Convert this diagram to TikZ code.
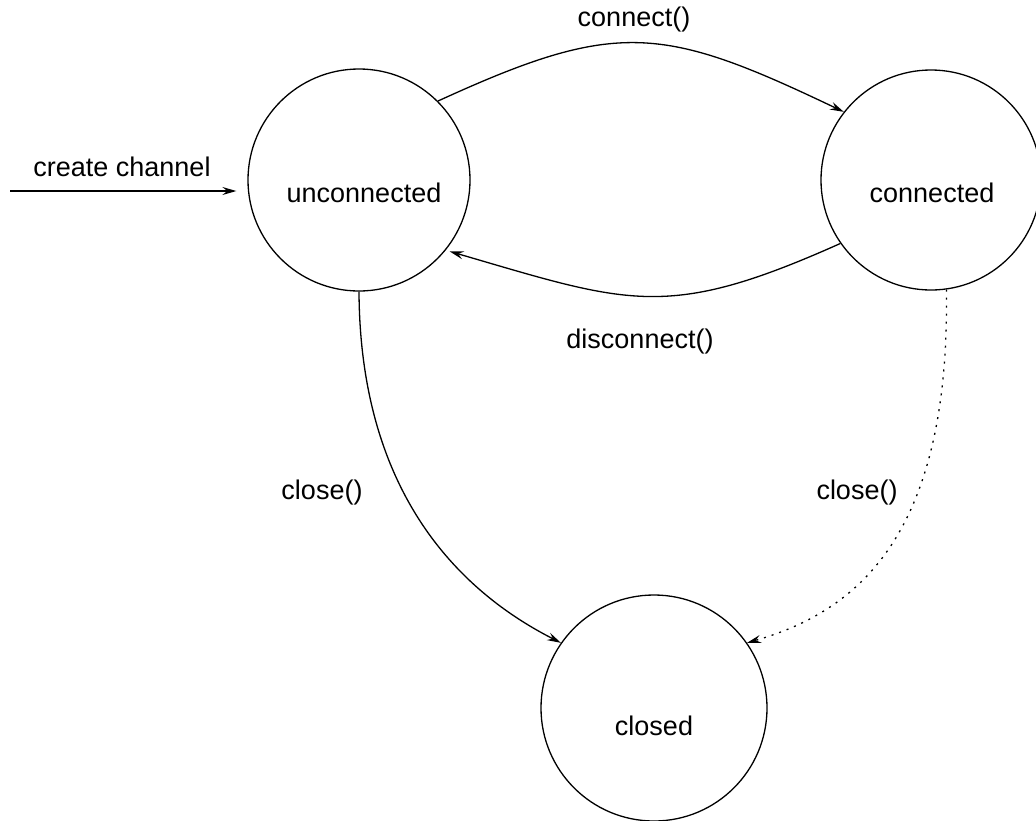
\documentclass[tikz,border=0pt]{standalone}
\usepackage{fontspec}
\setmainfont{Liberation Sans}
\usetikzlibrary{arrows.meta}

\begin{document}
\begin{tikzpicture}[x=1pt,y=-1pt,
  statecircle/.style={draw, circle, line width=1.3pt, inner sep=0pt},
  txt/.style={inner sep=0pt, font=\fontsize{27}{32}\selectfont},
  arr/.style={line width=1.3pt, -{Stealth[length=14pt,width=8pt,inset=5pt]}},
  dotline/.style={arr, dash pattern=on 2pt off 6pt}
]
\useasboundingbox (0,0) rectangle (1036,820);

% states
\node[statecircle, minimum size=222pt] (u) at (359,180) {};
\node[statecircle, minimum size=220pt] (c) at (931,180) {};
\node[statecircle, minimum size=226pt] (k) at (654,708) {};

\node[txt] (ut) at (364,193) {unconnected};
\node[txt] (ct) at (932,193) {connected};
\node[txt] (kt) at (654,726) {closed};

% initial transition
\coordinate (src) at (10,191);
\draw[arr, shorten >=11pt] (src) -- (src -| u.west);
\node[txt] (lcreate) at (122,167) {create channel};

% connect / disconnect
\draw[arr] (u.45) .. controls (617,19) and (662,25) .. (c.142);
\node[txt] (lconn) at (634,20) {connect()};

\draw[arr, shorten >=4pt] (c.215) .. controls (667,321) and (630,304) .. (u.321);
\node[txt] (ldisc) at (640,342) {disconnect()};

% close transitions
\draw[arr] (u.270) .. controls (360,480) and (447,585) .. (k.145);
\node[txt] (lclose1) at (322,493) {close()};

\draw[dotline] (c.278) .. controls (950,530) and (862,610) .. (k.35);
\node[txt] (lclose2) at (857,493) {close()};
\end{tikzpicture}
\end{document}
